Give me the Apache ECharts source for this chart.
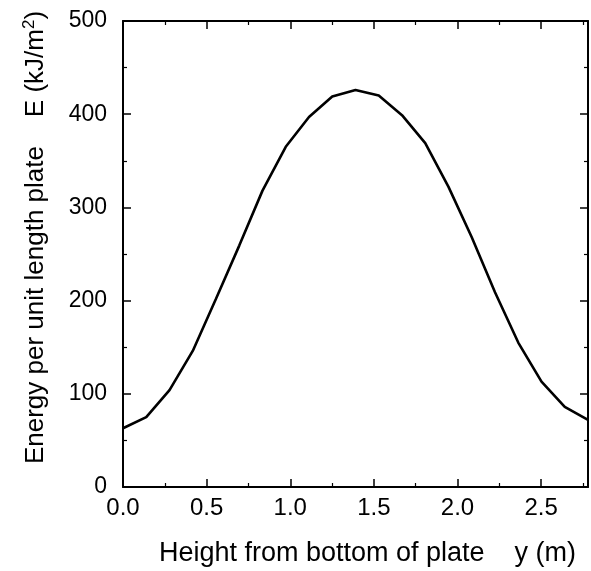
<!DOCTYPE html>
<html>
<head>
<meta charset="utf-8">
<script src="https://cdn.jsdelivr.net/npm/echarts@6/dist/echarts.min.js"></script>
<style>html,body{margin:0;padding:0;background:#fff}#c{width:591px;height:571px}</style>
</head>
<body>
<div id="c"></div>
<script>
// Height from bottom of plate y (m)
var heights = [0.000,0.139,0.278,0.417,0.556,0.695,0.834,0.973,1.112,1.251,1.390,1.529,1.668,1.807,1.946,2.085,2.224,2.363,2.502,2.641,2.780];
// Energy per unit length plate E (kJ/m^2)
var energy = [63,75,104,146,202,259,318,365,397,419,426,420,399,369,322,268,209,155,113,86,72];
var xTicks = ['0.0','0.5','1.0','1.5','2.0','2.5'];
var yTicks = ['0','100','200','300','400','500'];

var data = heights.map(function(h,i){return [h, energy[i]];});
var font = 'Liberation Sans, Arial, sans-serif';
function axLine(){return {show:true, onZero:false, lineStyle:{color:'#000', width:2}};}
function tick(){return {show:true, inside:true, length:8, lineStyle:{color:'#000', width:1.5}};}
function minor(){return {show:true, splitNumber:2, length:4, lineStyle:{color:'#000', width:1.2}};}

var chart = echarts.init(document.getElementById('c'));
chart.setOption({
  animation:false,
  backgroundColor:'#fff',
  grid:{left:123, right:3, top:21, bottom:84, containLabel:false, outerBoundsMode:'none'},
  xAxis:[{
    type:'value', min:0, max:2.78, interval:0.5, position:'bottom',
    axisLine:axLine(), axisTick:tick(), minorTick:minor(), splitLine:{show:false},
    axisLabel:{color:'#000', fontFamily:font, fontSize:24, margin:9, showMaxLabel:false,
      formatter:function(v){var i=Math.round(v/0.5); return Math.abs(v-i*0.5)<1e-6 ? xTicks[i] : '';}},
    name:'Height from bottom of plate    y (m)', nameLocation:'middle', nameGap:53,
    nameTextStyle:{color:'#000', fontFamily:font, fontSize:27, padding:[0,0,0,24]}
  },{
    type:'value', min:0, max:2.78, interval:0.5, position:'top',
    axisLine:axLine(), axisTick:tick(), minorTick:minor(), splitLine:{show:false}, axisLabel:{show:false}
  }],
  yAxis:[{
    type:'value', min:0, max:500, interval:100, position:'left',
    axisLine:axLine(), axisTick:tick(), minorTick:minor(), splitLine:{show:false},
    axisLabel:{color:'#000', fontFamily:font, fontSize:23, margin:16,
      formatter:function(v){return yTicks[Math.round(v/100)];}},
    name:'{a|Energy per unit length plate    E (kJ/m}{s|2}{a|)}', nameLocation:'middle', nameGap:73, nameRotate:90,
    nameTextStyle:{color:'#000', fontFamily:font, fontSize:26, padding:[0,0,0,33],
      rich:{a:{fontFamily:font, fontSize:26, color:'#000'}, s:{fontFamily:font, fontSize:17, color:'#000', verticalAlign:'top', padding:[0,0,12,0]}}}
  },{
    type:'value', min:0, max:500, interval:100, position:'right',
    axisLine:axLine(), axisTick:tick(), minorTick:minor(), splitLine:{show:false}, axisLabel:{show:false}
  }],
  series:[{
    type:'line', xAxisIndex:0, yAxisIndex:0, data:data, symbol:'none', smooth:false,
    lineStyle:{color:'#000', width:2.6}
  }]
});
</script>
</body>
</html>
